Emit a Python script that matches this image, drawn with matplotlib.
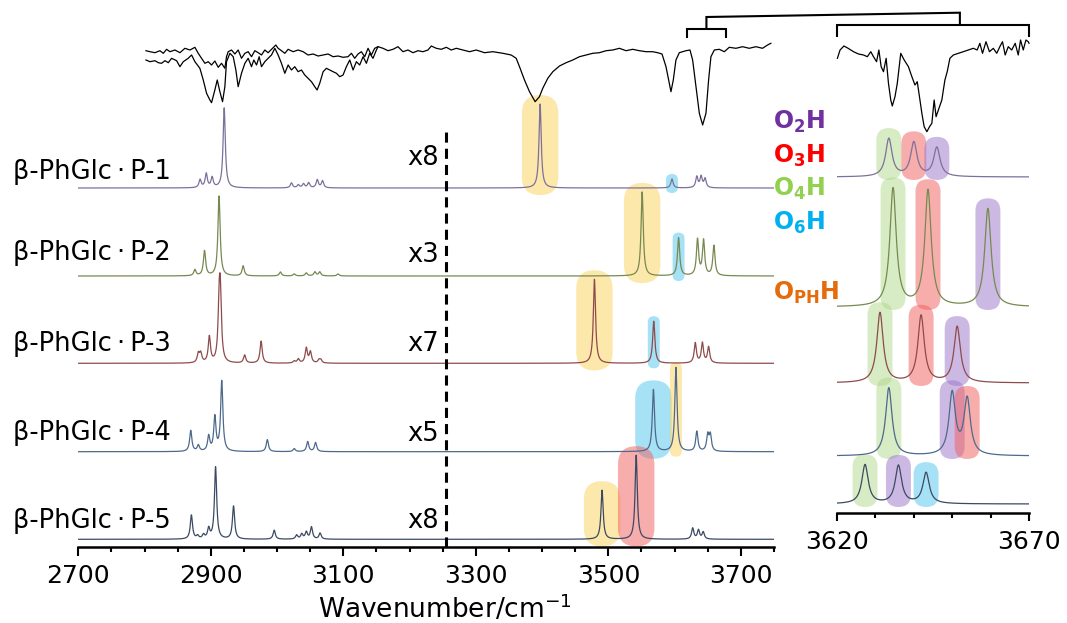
import numpy as np
import matplotlib
matplotlib.use("Agg")
import matplotlib.pyplot as plt
from matplotlib.patches import FancyBboxPatch
from matplotlib.ticker import FixedLocator

plt.rcParams['font.family'] = ['DejaVu Sans']
plt.rcParams['mathtext.fontset'] = 'custom'
plt.rcParams['mathtext.rm'] = 'DejaVu Sans'
plt.rcParams['mathtext.bf'] = 'DejaVu Sans:bold'

W, H = 1067, 623

# ---------------- data ----------------
conformers = ["β-PhGlc\u2009·\u2009P-1", "β-PhGlc\u2009·\u2009P-2", "β-PhGlc\u2009·\u2009P-3",
              "β-PhGlc\u2009·\u2009P-4", "β-PhGlc\u2009·\u2009P-5"]
scale_labels = ["x8", "x3", "x7", "x5", "x8"]
line_colors = ["#7e7199", "#76894f", "#8e4b4b", "#4d6a8c", "#3b4a63"]

# CH stretches + bonded OH peaks (wavenumber / displayed intensity)
main_freqs = [
    [2883.8, 2893.1, 2902.0, 2920.2, 3021.7, 3032.1, 3039.9, 3047.7, 3060.7, 3068.6, 3397, 3596],
    [2876.0, 2890.5, 2912.4, 2948.8, 3005.0, 3025.9, 3044.1, 3057.1, 3064.4, 3092.0, 3551, 3606],
    [2881.2, 2884.8, 2897.8, 2912.6, 2914.4, 2951.0, 2975.9, 3025.9, 3032.1, 3044.1, 3050.3,
     3063.3, 3066.0, 3479, 3568.5],
    [2869.7, 2881.2, 2896.8, 2906.1, 2916.5, 2985.3, 3025.9, 3046.2, 3058.1, 3568, 3602],
    [2870.7, 2880.1, 2889.0, 2896.8, 2907.2, 2934.3, 2995.7, 3029.5, 3037.3, 3044.1, 3051.9,
     3064.9, 3490.5, 3542],
]
main_heights = [
    [8, 14, 10, 80, 5, 3, 4, 5, 8, 7, 84, 9],
    [6, 25, 80, 10, 4, 2, 3, 4, 4, 2, 84, 38],
    [9, 9, 26, 50, 58, 8, 22, 2, 4, 15, 11, 3, 3, 84, 42],
    [21, 6, 15, 34, 70, 12, 3, 10, 9, 62, 84],
    [24, 3, 4, 10, 72, 33, 9, 4, 5, 7, 12, 6, 49, 84],
]

# free OH stretches (shown in both panels)
free_freqs = [
    [3633.5, 3640.0, 3646.0],
    [3634.6, 3643.7, 3659.3],
    [3631.2, 3641.9, 3651.3],
    [3633.5, 3650.0, 3653.9],
    [3627.3, 3636.0, 3643.2],
]
free_main_heights = [
    [11, 11, 9],
    [36, 35, 30],
    [20, 20, 16],
    [20, 16, 16],
    [11, 9, 7],
]
free_zoom_heights = [
    [38, 34, 29],
    [118, 116, 98],
    [70, 67, 56],
    [68, 62, 56],
    [39, 38, 31],
]
free_modes = [
    ["O4H", "O3H", "O2H"],
    ["O4H", "O3H", "O2H"],
    ["O4H", "O3H", "O2H"],
    ["O4H", "O2H", "O3H"],
    ["O4H", "O2H", "O6H"],
]

# highlighted bonded OH bands in main panel: (conformer, wavenumber, mode)
main_highlights = [
    (0, 3397, "OPH"), (0, 3596, "O6H"),
    (1, 3551, "OPH"), (1, 3606, "O6H"),
    (2, 3479, "OPH"), (2, 3568.5, "O6H"),
    (3, 3568, "O6H"), (3, 3602, "OPH"),
    (4, 3490.5, "OPH"), (4, 3542, "O3H"),
]
main_highlight_wide = [True, False, True, False, True, False, True, False, True, True]

legend_labels = [r"$\mathbf{O_{2}H}$", r"$\mathbf{O_{3}H}$", r"$\mathbf{O_{4}H}$",
                 r"$\mathbf{O_{6}H}$", r"$\mathbf{O_{PH}H}$"]
legend_colors = ["#7030a0", "#ff0000", "#92d050", "#00b0f0", "#e46c0a"]
hl_colors = {"O2H": "#9b74c9", "O3H": "#f25c5c", "O4H": "#b0d98a",
             "O6H": "#4fc4ee", "OPH": "#fcd25a"}

# experimental IR trace (signal in panel units)
ir_a_wn = [2802.1, 2808.2, 2815.7, 2823.2, 2828.3, 2833.3, 2838.3, 2845.8, 2853.4, 2860.9, 2868.5,
           2876.0, 2881.0, 2886.0, 2891.1, 2896.1, 2901.1, 2906.1, 2911.2, 2916.2, 2921.2, 2923.7,
           2926.2, 2931.3, 2936.3, 2941.3, 2946.3, 2951.4, 2956.4, 2961.4, 2966.4, 2971.5, 2976.5,
           2981.5, 2986.5, 2991.6, 2998.1, 3001.6, 3006.6, 3011.7, 3016.7, 3024.2, 3031.8, 3039.3,
           3046.8, 3054.4, 3061.9, 3069.5, 3077.0, 3084.5, 3092.1, 3099.6, 3107.1, 3112.2, 3117.2,
           3122.2, 3127.2, 3132.3, 3137.3, 3142.3, 3147.3, 3152.4,
           3159.9, 3167.4, 3175.0, 3182.5, 3190.0, 3197.6, 3205.1, 3212.7, 3220.2, 3227.7, 3232.8,
           3240.3, 3247.8, 3255.4, 3262.9, 3270.5,
           3290.5, 3300.6, 3313.1, 3325.7, 3340.8, 3353.3, 3360.9, 3365.9, 3373.4, 3381.0, 3389.5,
           3396.0, 3401.0, 3408.6, 3416.2, 3426.2, 3436.3, 3446.3, 3456.4, 3466.4, 3476.5, 3486.5,
           3496.6, 3506.6, 3516.7, 3526.7, 3536.8, 3546.8, 3556.9, 3566.9, 3574.4, 3581.0, 3587.0,
           3592.0, 3594.5, 3598.0, 3602.0, 3607.1, 3617.2, 3623.2, 3627.2, 3632.2, 3637.3, 3642.3,
           3647.3, 3651.3, 3654.8, 3659.9, 3667.4, 3675.0, 3682.5, 3692.5, 3702.6, 3712.6, 3722.7,
           3732.7, 3740.3, 3745.3]
ir_a_sig = [496.3, 495.3, 494.3, 496.3, 493.7, 497.7, 495.3, 497.0, 494.3, 498.7, 497.0,
            499.7, 493.7, 488.7, 483.7, 485.3, 482.0, 486.0, 479.7, 483.7, 478.7, 490.3,
            495.3, 497.0, 493.0, 497.0, 488.7, 493.7, 495.3, 490.3, 496.3, 494.3, 492.0,
            497.0, 494.3, 497.7, 502.0, 498.7, 496.3, 493.7, 497.7, 495.3, 497.0, 495.3,
            492.0, 493.0, 491.0, 492.0, 493.0, 490.3, 491.0, 489.7, 490.3, 493.7, 488.7,
            493.0, 495.3, 490.3, 498.7, 492.0, 498.7, 500.3,
            498.7, 496.3, 497.7, 500.3, 495.3, 497.0, 494.3, 496.3, 495.3, 497.0, 501.0,
            498.7, 497.7, 499.7, 497.0, 498.7,
            495.3, 497.0, 494.3, 495.3, 493.7, 492.0, 488.7, 480.3, 467.0, 455.3, 445.3,
            450.3, 458.7, 468.7, 475.3, 481.0, 484.3, 487.0, 490.3, 492.0, 493.7, 494.3,
            496.3, 497.0, 498.7, 496.3, 497.7, 496.3, 495.3, 495.3, 494.3, 493.0, 480.3,
            463.7, 455.3, 467.0, 487.0, 494.3, 496.3, 497.0, 487.0, 460.3, 433.7, 422.0,
            433.7, 467.0, 490.3, 497.0, 497.7, 495.3, 499.7, 498.7, 500.3, 498.7, 500.3,
            498.7, 502.0, 503.7]
ir_b_wn = [2802.1, 2808.2, 2815.7, 2820.7, 2825.7, 2830.8, 2835.8, 2840.8, 2848.4, 2853.4, 2858.4,
           2865.9, 2871.0, 2876.0, 2883.5, 2888.6, 2893.6, 2898.6, 2901.1, 2906.1, 2909.7, 2913.7,
           2917.7, 2921.2, 2923.7, 2928.8, 2933.8, 2937.8, 2941.3, 2946.3, 2951.4, 2956.4, 2961.4,
           2964.9, 2969.0, 2973.0, 2976.5, 2981.5, 2986.5, 2991.6, 2996.6, 3001.6, 3006.6, 3011.7,
           3016.7, 3021.7, 3026.7, 3031.8, 3036.8, 3041.8, 3046.8, 3051.9, 3056.9, 3060.4, 3064.4,
           3069.5, 3074.5, 3079.5, 3084.5, 3089.6, 3094.6, 3099.6, 3104.6, 3109.7, 3114.7, 3119.7,
           3124.7, 3129.8, 3134.8, 3139.8, 3144.8, 3149.9, 3152.4]
ir_b_sig = [487.0, 485.3, 486.3, 484.3, 483.7, 486.3, 484.3, 488.7, 486.3, 480.3, 485.3,
            488.7, 492.0, 485.3, 478.7, 467.0, 453.7, 447.0, 444.3, 457.0, 467.0, 455.3,
            445.3, 460.3, 485.3, 493.7, 490.3, 477.0, 460.3, 473.7, 483.7, 488.7, 480.3,
            487.0, 482.0, 490.3, 480.3, 485.3, 488.7, 492.0, 498.7, 492.0, 483.7, 473.7,
            482.0, 477.0, 480.3, 475.3, 477.0, 472.0, 468.7, 465.3, 460.3, 457.0, 463.7,
            475.3, 478.7, 477.0, 475.3, 473.7, 470.3, 472.0, 480.3, 487.0, 477.0, 485.3,
            482.0, 490.3, 483.7, 493.7, 488.7, 497.0, 500.3]

ir_zoom_wn = [3620.1, 3620.8, 3621.8, 3622.9, 3624.3, 3625.6, 3626.9, 3627.9, 3628.8, 3629.5, 3630.3,
              3630.9, 3631.5, 3632.1, 3632.8, 3633.4, 3634.0, 3634.4, 3635.1, 3635.7, 3636.6, 3637.5,
              3638.6, 3639.5, 3640.3, 3640.9, 3641.6, 3642.1, 3642.7, 3643.4, 3644.1, 3644.7, 3645.3,
              3645.8, 3646.4, 3647.3, 3648.1, 3648.7, 3649.4, 3650.3, 3651.6, 3652.9, 3654.2, 3655.5,
              3656.5, 3657.2, 3657.9, 3658.8, 3659.7, 3660.7, 3661.6, 3662.4, 3663.1, 3663.8, 3664.6,
              3665.5, 3666.4, 3667.2, 3667.8, 3668.5, 3669.2, 3669.8, 3670.0]
ir_zoom_sig = [454.7, 463.0, 467.0, 464.7, 461.3, 459.0, 458.0, 456.3, 461.3, 456.3, 451.3,
               463.0, 446.3, 441.3, 454.7, 429.7, 413.0, 407.0, 416.3, 429.7, 459.7, 453.0,
               446.3, 436.3, 428.0, 431.3, 413.0, 399.7, 386.3, 381.3, 386.3, 389.7, 413.0,
               396.3, 403.0, 413.0, 433.0, 441.3, 454.7, 458.0, 459.7, 461.3, 463.0, 464.7,
               463.0, 469.7, 459.7, 471.3, 461.3, 464.7, 459.7, 466.3, 471.3, 458.0, 466.3,
               463.0, 469.7, 458.0, 473.0, 463.0, 473.0, 471.3, 469.7]

# ---------------- layout ----------------
main_base = [359, 271, 183.7, 95.3, 7.7]
zoom_base = [336, 206, 130, 57, 9]
name_y = [375, 294, 203, 114, 26]
scale_y = [389, 292, 203, 113, 26]
g_main, g_zoom = 2.0, 1.0


def lorentz(x, freqs, heights, g):
    y = np.zeros_like(x)
    for f, h in zip(freqs, heights):
        y += h / (1.0 + ((x - f) / g) ** 2)
    return y


fig = plt.figure(figsize=(W / 100, H / 100), dpi=100)
ax = fig.add_axes([78.3 / W, (H - 547) / H, (774 - 78.3) / W, 547 / H])
ax.set_xlim(2700, 3750)
ax.set_ylim(0, 547)
axz = fig.add_axes([837 / W, (H - 513) / H, (1029 - 837) / W, 513 / H])
axz.set_xlim(3620, 3670)
axz.set_ylim(0, 513)

for a in (ax, axz):
    a.patch.set_alpha(0)
    for s in ("left", "top", "right"):
        a.spines[s].set_visible(False)
    a.spines["bottom"].set_linewidth(1.8)
    a.set_yticks([])

ax.xaxis.set_major_locator(FixedLocator([2700, 2900, 3100, 3300, 3500, 3700]))
ax.xaxis.set_minor_locator(FixedLocator(np.arange(2750, 3751, 50)))
ax.tick_params(axis="x", which="major", direction="out", length=6.5, width=1.5,
               labelsize=18, pad=6)
ax.tick_params(axis="x", which="minor", direction="out", length=3.6, width=1.5)
ax.set_xlabel("Wavenumber/cm$^{-1}$", fontsize=19, labelpad=1)
ax.xaxis.set_label_coords((445 - 78.3) / (774 - 78.3), -0.085)

axz.xaxis.set_major_locator(FixedLocator([3620, 3670]))
axz.xaxis.set_minor_locator(FixedLocator([3630, 3640, 3650, 3660]))
axz.tick_params(axis="x", which="major", direction="out", length=6, width=1.5,
                labelsize=18, pad=6)
axz.tick_params(axis="x", which="minor", direction="out", length=3.6, width=1.5)

xm = np.arange(2700, 3750.01, 0.25)
xz = np.arange(3620, 3670.001, 0.05)
asp_main = 1.0 / ((3750 - 2700) / (774 - 78.3))
asp_zoom = 1.0 / (50 / (1029 - 837))

main_specs = []
for i in range(5):
    freqs = main_freqs[i] + free_freqs[i]
    hts = main_heights[i] + free_main_heights[i]
    sp = lorentz(xm, freqs, hts, g_main)
    main_specs.append(sp)
    ax.plot(xm, main_base[i] + sp, color=line_colors[i], lw=0.9, zorder=3)
    ax.text(-0.0943, name_y[i], conformers[i], transform=ax.get_yaxis_transform(),
            ha="left", va="center", fontsize=18.5, clip_on=False)
    ax.text((439 - 78.3) / (774 - 78.3), scale_y[i], scale_labels[i],
            transform=ax.get_yaxis_transform(), ha="right", va="center", fontsize=18.5)

    spz = lorentz(xz, free_freqs[i], free_zoom_heights[i], g_zoom)
    axz.plot(xz, zoom_base[i] + spz, color=line_colors[i], lw=0.9, zorder=3)
    # highlight boxes in zoom panel
    for f, h, m in zip(free_freqs[i], free_zoom_heights[i], free_modes[i]):
        half = 3.25
        sel = (xz > f - 1) & (xz < f + 1)
        top = zoom_base[i] + spz[sel].max() + 10
        bot = zoom_base[i] - 3
        p = FancyBboxPatch((f - half, bot), 2 * half, top - bot,
                           boxstyle=f"round,pad=0,rounding_size={half}",
                           mutation_aspect=asp_zoom, fc=hl_colors[m], ec="none",
                           alpha=0.5, zorder=1)
        axz.add_patch(p)

for (i, f, m), wide in zip(main_highlights, main_highlight_wide):
    half = 27.5 if wide else 9.0
    r_px = half * asp_main
    sel = (xm > f - 3) & (xm < f + 3)
    top = main_base[i] + main_specs[i][sel].max() + (0.33 * r_px + 3)
    bot = main_base[i] - (0.17 * r_px + 4)
    p = FancyBboxPatch((f - half, bot), 2 * half, top - bot,
                       boxstyle=f"round,pad=0,rounding_size={half}",
                       mutation_aspect=asp_main, fc=hl_colors[m], ec="none",
                       alpha=0.5, zorder=1)
    ax.add_patch(p)

# dashed separator
ax.plot([3255, 3255], [0, 420], color="black", lw=2.2, ls=(0, (3.3, 2.0)), zorder=4)

# experimental IR
ax.plot(ir_a_wn, ir_a_sig, color="black", lw=0.9, zorder=4)
ax.plot(ir_b_wn, ir_b_sig, color="black", lw=0.9, zorder=4)
axz.plot(ir_zoom_wn, ir_zoom_sig, color="black", lw=0.9, zorder=4, clip_on=False)

# legend texts
leg_y = [121.7, 156, 189, 223, 292.7]
for lab, col, yy in zip(legend_labels, legend_colors, leg_y):
    fig.text(772.7 / W, 1 - yy / H, lab, color=col, fontsize=17, ha="left", va="center")

# brackets linking main region to zoom panel
ov = fig.add_axes([0, 0, 1, 1])
ov.set_xlim(0, W)
ov.set_ylim(H, 0)
ov.axis("off")
ov.patch.set_alpha(0)


def px(a, x):
    return a.transData.transform((x, 0))[0]


b1l, b1r = px(ax, 3618), px(ax, 3678)
b1m = 0.5 * (b1l + b1r)
b2l, b2r, b2m = px(axz, 3620), px(axz, 3670), px(axz, 3652)
kw = dict(color="black", lw=1.5, solid_capstyle="butt", solid_joinstyle="miter")
ov.plot([b1l, b1l, b1r, b1r], [38, 29, 29, 38], **kw)
ov.plot([b1m, b1m, b2m, b2m], [29, 17, 12.7, 25], **kw)
ov.plot([b2l, b2l, b2r, b2r], [37, 25, 25, 37], **kw)

fig.savefig("out.png", dpi=100)
